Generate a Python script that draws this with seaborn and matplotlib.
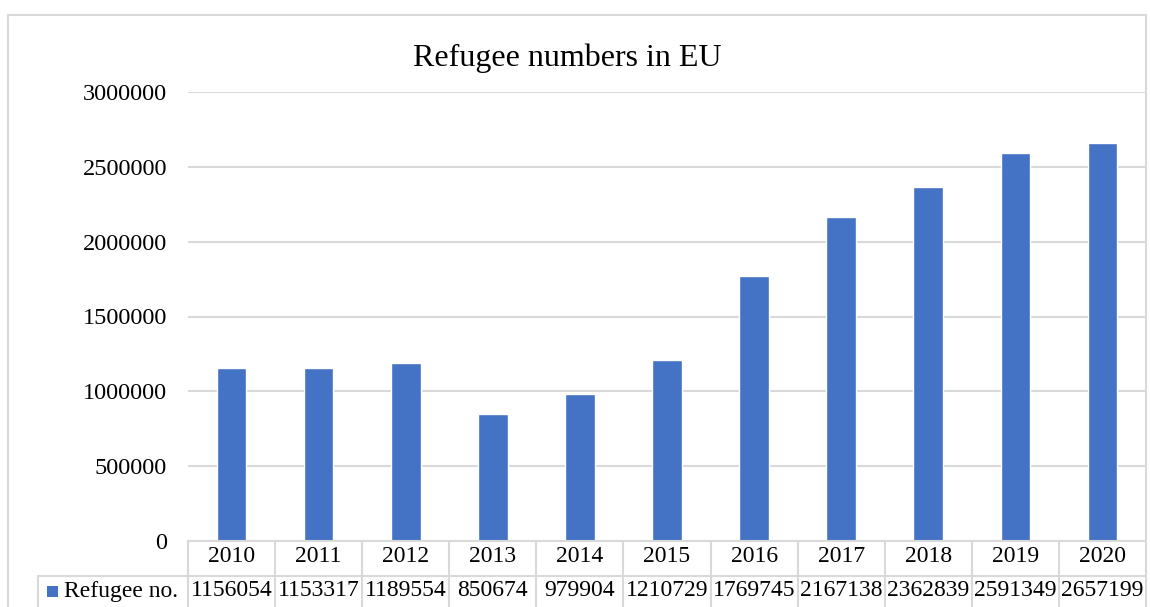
import matplotlib
matplotlib.use("Agg")
import matplotlib.pyplot as plt
import seaborn as sns
import pandas as pd
from matplotlib.patches import Rectangle
from matplotlib.lines import Line2D

years = ["2010", "2011", "2012", "2013", "2014", "2015", "2016", "2017", "2018", "2019", "2020"]
refugees = [1156054, 1153317, 1189554, 850674, 979904, 1210729, 1769745, 2167138, 2362839, 2591349, 2657199]
series_name = "Refugee no."
title = "Refugee numbers in EU"
yticks = [0, 500000, 1000000, 1500000, 2000000, 2500000, 3000000]

sns.set_theme(style="white")
plt.rcParams['font.family'] = ['Liberation Serif', 'DejaVu Serif']
plt.rcParams['text.color'] = 'black'
plt.rcParams['ytick.color'] = 'black'
plt.rcParams['xtick.color'] = 'black'

W, H = 1150, 607
fig = plt.figure(figsize=(W / 100, H / 100), dpi=100)
grid_c = "#d9d9d9"
bar_c = "#4472C4"

# chart border
fig.patches.append(Rectangle((8 / W, -0.1), (1146 - 8) / W, 1.1 - 15 / H,
                             transform=fig.transFigure, fill=False,
                             edgecolor=grid_c, linewidth=1.5))

left, right = 188 / W, 1146 / W
bottom, top = (H - 541) / H, (H - 92) / H
ax = fig.add_axes([left, bottom, right - left, top - bottom])

df = pd.DataFrame({"year": years, "value": refugees})
sns.barplot(data=df, x="year", y="value", color=bar_c, width=0.34,
            saturation=1, ax=ax, zorder=3)

ax.set_ylim(0, 3000000)
ax.set_xlim(-0.5, len(years) - 0.5)
ax.set_yticks(yticks)
ax.set_yticklabels([str(v) for v in yticks], fontsize=17.5, color="black")
ax.tick_params(axis="y", length=0, pad=15)
ax.set_xticks([])
ax.set_xlabel("")
ax.set_ylabel("")
ax.yaxis.grid(True, color=grid_c, linewidth=1.5, zorder=0)
for s in ax.spines.values():
    s.set_visible(False)
ax.set_axisbelow(True)

fig.text(567 / W, 1 - 58 / H, title, ha="center", va="center", fontsize=23, color="black")

# data table
def fx(px):
    return px / W

def fy(py):
    return 1 - py / H

n = len(years)
cell = (1146 - 188) / n
lw = 1.5
fig.lines.append(Line2D([fx(188), fx(1146)], [fy(541), fy(541)], color=grid_c, lw=lw, transform=fig.transFigure))
fig.lines.append(Line2D([fx(38), fx(1146)], [fy(576), fy(576)], color=grid_c, lw=lw, transform=fig.transFigure))
for i in range(n + 1):
    x = 188 + i * cell
    fig.lines.append(Line2D([fx(x), fx(x)], [fy(541), fy(610)], color=grid_c, lw=lw, transform=fig.transFigure))
fig.lines.append(Line2D([fx(38), fx(38)], [fy(576), fy(610)], color=grid_c, lw=lw, transform=fig.transFigure))

for i, (yr, v) in enumerate(zip(years, refugees)):
    cx = 188 + (i + 0.5) * cell
    fig.text(fx(cx), fy(557), yr, ha="center", va="center", fontsize=17, color="black")
    fig.text(fx(cx), fy(591), str(v), ha="center", va="center", fontsize=17, color="black")

fig.patches.append(Rectangle((fx(47), fy(597)), 11 / W, 11 / H, transform=fig.transFigure,
                             facecolor=bar_c, edgecolor="none"))
fig.text(fx(64), fy(591), series_name, ha="left", va="center", fontsize=17, color="black")

fig.savefig("out.png", dpi=100)
